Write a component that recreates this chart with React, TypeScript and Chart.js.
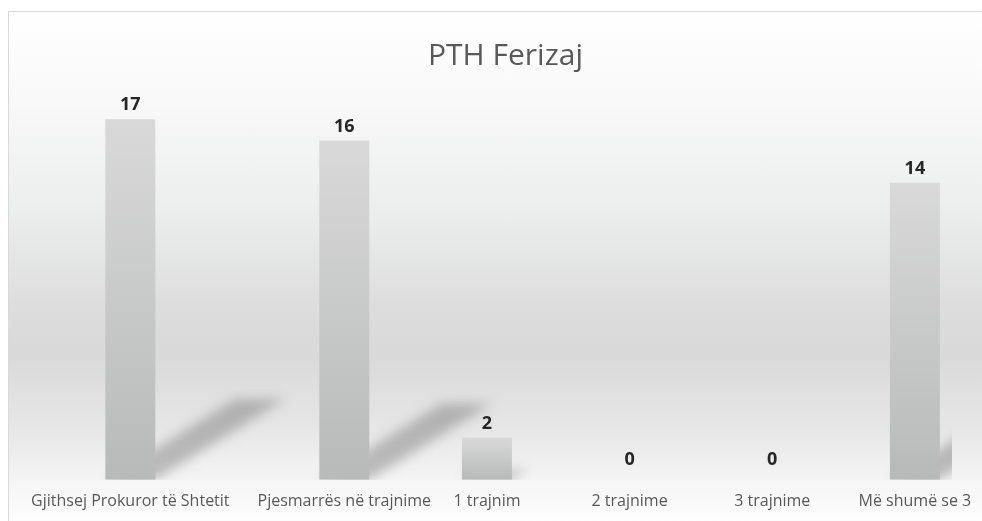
import React, { useEffect, useRef } from "react";
import { Chart, registerables } from "chart.js";

Chart.register(...registerables);

const categories = [
  "Gjithsej Prokuror të Shtetit",
  "Pjesmarrës në trajnime",
  "1 trajnim",
  "2 trajnime",
  "3 trajnime",
  "Më shumë se 3",
];
const values = [17, 16, 2, 0, 0, 14];
// horizontal slot of each category on the axis
const categoryPositions = [0, 3, 5, 7, 9, 11];
const chartTitle = "PTH Ferizaj";

export default function App() {
  const ref = useRef<HTMLCanvasElement>(null);

  useEffect(() => {
    document.body.style.margin = "0";
    const canvas = ref.current;
    if (!canvas) return;

    const shadowPlugin = {
      id: "perspectiveShadow",
      beforeDatasetsDraw(chart: any) {
        const { ctx, chartArea } = chart;
        const meta = chart.getDatasetMeta(0);
        ctx.save();
        ctx.beginPath();
        ctx.rect(
          chartArea.left,
          chartArea.top - 60,
          chartArea.right - chartArea.left,
          chartArea.bottom - chartArea.top + 60
        );
        ctx.clip();
        ctx.filter = "blur(6px)";
        ctx.fillStyle = "rgba(90,90,90,0.36)";
        meta.data.forEach((el: any) => {
          const { x, y, base, width } = el.getProps(["x", "y", "base", "width"], true);
          const h = base - y;
          if (h <= 1) return;
          const L = x - width / 2;
          const R = x + width / 2;
          const dx = h * 0.36;
          const dy = h * 0.224;
          ctx.beginPath();
          ctx.moveTo(L, base);
          ctx.lineTo(R, base);
          ctx.lineTo(R + dx, base - dy);
          ctx.lineTo(L + dx, base - dy);
          ctx.closePath();
          ctx.fill();
        });
        ctx.restore();
      },
    };

    const labelPlugin = {
      id: "valueLabels",
      afterDatasetsDraw(chart: any) {
        const { ctx } = chart;
        const meta = chart.getDatasetMeta(0);
        ctx.save();
        ctx.font = "bold 18px 'Open Sans'";
        ctx.fillStyle = "#262626";
        ctx.textAlign = "center";
        ctx.textBaseline = "bottom";
        meta.data.forEach((el: any, i: number) => {
          const { x, y } = el.getProps(["x", "y"], true);
          const v = values[i];
          ctx.fillText(String(v), x, y - (v === 0 ? 11 : 5));
        });
        ctx.restore();
      },
    };

    const chart = new Chart(canvas, {
      type: "bar",
      data: {
        datasets: [
          {
            data: categoryPositions.map((x, i) => ({ x, y: values[i] })),
            barThickness: 50,
            borderWidth: 0,
            inflateAmount: 0,
            backgroundColor: (c: any) => {
              const ch = c.chart;
              const ys = ch.scales && ch.scales.y;
              if (!ys || !ch.chartArea || !c.raw) return "#c8c8c8";
              const top = ys.getPixelForValue(c.raw.y);
              const base = ys.getPixelForValue(0);
              if (base - top < 1) return "rgba(0,0,0,0)";
              const g = ch.ctx.createLinearGradient(0, top, 0, base);
              g.addColorStop(0, "#d9d9d9");
              g.addColorStop(1, "#b8b9b9");
              return g;
            },
          },
        ],
      },
      options: {
        animation: false,
        responsive: false,
        devicePixelRatio: 1,
        layout: { padding: { left: 50, right: 30, top: 0, bottom: 0 } },
        plugins: {
          legend: { display: false },
          tooltip: { enabled: false },
          title: {
            display: true,
            text: chartTitle,
            color: "#595959",
            font: { family: "'Open Sans'", size: 30, weight: "normal" },
            padding: { top: 26, bottom: 24 },
          },
        },
        scales: {
          x: {
            type: "linear",
            offset: false,
            min: -1,
            max: 11.52,
            afterBuildTicks: (s: any) => {
              s.ticks = categoryPositions.map((v) => ({ value: v }));
            },
            afterFit: (s: any) => {
              s.paddingLeft = 0;
              s.paddingRight = 0;
            },
            ticks: {
              callback: (v: any) => {
                const idx = categoryPositions.indexOf(Number(v));
                return idx >= 0 ? categories[idx] : "";
              },
              color: "#595959",
              font: { family: "'Open Sans'", size: 16 },
              padding: 12,
              maxRotation: 0,
              minRotation: 0,
              autoSkip: false,
            },
            grid: { display: false, drawTicks: false, offset: false },
            border: { display: false },
          },
          y: {
            display: false,
            min: 0,
            max: 18,
          },
        },
      },
      plugins: [shadowPlugin, labelPlugin],
    } as any);

    return () => chart.destroy();
  }, []);

  return (
    <div
      style={{
        position: "fixed",
        left: 0,
        top: 0,
        width: 982,
        height: 521,
        overflow: "hidden",
        background: "#ffffff",
      }}
    >
      <div
        style={{
          position: "absolute",
          left: 8,
          top: 11,
          width: 1000,
          height: 520,
          borderTop: "1px solid #d9d9d9",
          borderLeft: "1px solid #d9d9d9",
          background:
            "linear-gradient(to bottom, #ffffff 0%, #f8f8f9 18%, #eceded 38%, #dddddd 56%, #d9d9d9 66%, #e6e6e6 80%, #f7f7f7 92%, #ffffff 100%)",
        }}
      >
        <canvas
          ref={ref}
          width={973}
          height={511}
          style={{ position: "absolute", left: 0, top: 0, width: 973, height: 511 }}
        />
      </div>
    </div>
  );
}
